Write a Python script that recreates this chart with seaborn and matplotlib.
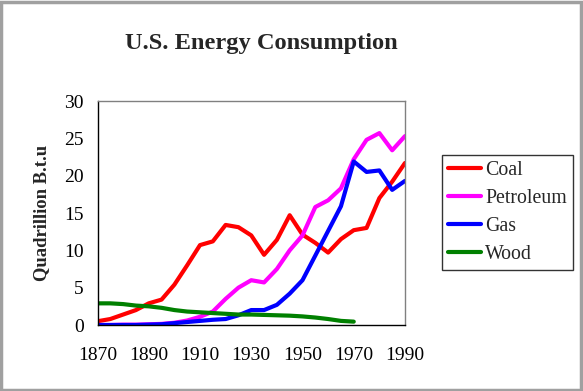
import matplotlib
matplotlib.use("Agg")
import matplotlib.pyplot as plt
import numpy as np
import pandas as pd
import seaborn as sns
from matplotlib.patches import Rectangle

# data (quadrillion Btu, 5-year steps)
years = list(range(1870, 1995, 5))
coal = [0.5, 0.8, 1.4, 2.0, 2.9, 3.4, 5.4, 8.0, 10.7, 11.2, 13.4, 13.1, 12.0,
        9.4, 11.4, 14.7, 12.1, 11.0, 9.7, 11.5, 12.7, 13.0, 17.0, 19.2, 21.7]
petroleum = [0.0, 0.0, 0.05, 0.05, 0.1, 0.15, 0.3, 0.6, 1.1, 1.8, 3.5, 5.0, 6.0,
             5.7, 7.5, 10.0, 12.0, 15.8, 16.7, 18.3, 22.2, 24.8, 25.7, 23.4, 25.3]
gas = [0.0, 0.0, 0.0, 0.0, 0.05, 0.1, 0.25, 0.4, 0.55, 0.7, 0.8, 1.3, 2.0,
       2.0, 2.7, 4.2, 6.0, 9.3, 12.6, 15.9, 21.9, 20.5, 20.7, 18.1, 19.3]
wood = [2.9, 2.9, 2.8, 2.6, 2.5, 2.3, 2.0, 1.8, 1.7, 1.6, 1.5, 1.4, 1.4,
        1.35, 1.3, 1.25, 1.15, 1.0, 0.8, 0.55, 0.45] + [np.nan] * 4

series_names = ["Coal", "Petroleum", "Gas", "Wood"]
series_colors = ["#FF0000", "#FF00FF", "#0000FF", "#008000"]
x_ticks = [1870, 1890, 1910, 1930, 1950, 1970, 1990]
y_ticks = [0, 5, 10, 15, 20, 25, 30]

df = pd.DataFrame({"year": years, "Coal": coal, "Petroleum": petroleum,
                   "Gas": gas, "Wood": wood})
long_df = df.melt(id_vars="year", var_name="source", value_name="btu").dropna()

sns.set_theme(style="white")
plt.rcParams["font.family"] = ["Liberation Serif", "DejaVu Serif"]

fig = plt.figure(figsize=(5.83, 3.91), dpi=100)
fig.patch.set_facecolor("white")
ax = fig.add_axes([97.5 / 583, 66 / 391, 307.5 / 583, 224 / 391])

sns.lineplot(data=long_df, x="year", y="btu", hue="source",
             hue_order=series_names, palette=series_colors,
             linewidth=3, ax=ax)

ax.set_xlim(1870, 1990)
ax.set_ylim(0, 30)
ax.set_xticks(x_ticks)
ax.set_yticks(y_ticks)
ax.tick_params(direction="inout", length=8, width=1, colors="black",
               labelsize=14)
ax.tick_params(axis="x", pad=12)
ax.tick_params(axis="y", pad=6)
ax.set_xlabel("")
ax.set_ylabel("Quadrillion B.t.u", fontsize=13.4, fontweight="bold", labelpad=10)

for side in ["left", "bottom"]:
    ax.spines[side].set_color("black")
    ax.spines[side].set_linewidth(1)
for side in ["top", "right"]:
    ax.spines[side].set_color("#808080")
    ax.spines[side].set_linewidth(1)

handles, labels = ax.get_legend_handles_labels()
ax.get_legend().remove()
leg = fig.legend(handles, labels, loc="upper left",
                 bbox_to_anchor=(441.7 / 583, (391 - 155) / 391),
                 borderaxespad=0, fontsize=14.3, frameon=True, fancybox=False,
                 edgecolor="black", handlelength=1.7, handletextpad=0.18,
                 labelspacing=0.45, borderpad=0.3)
leg.get_frame().set_linewidth(1)
for line in leg.get_lines():
    line.set_linewidth(3)

fig.text(261 / 583, (391 - 43) / 391, "U.S. Energy Consumption",
         ha="center", va="center", fontsize=17.6, fontweight="bold")

# grey window frame
fig.patches.append(Rectangle((0.002, 0.003), 0.995, 0.993, transform=fig.transFigure,
                             fill=False, edgecolor="#A0A0A0", linewidth=2.5))

fig.savefig("out.png", dpi=100)
